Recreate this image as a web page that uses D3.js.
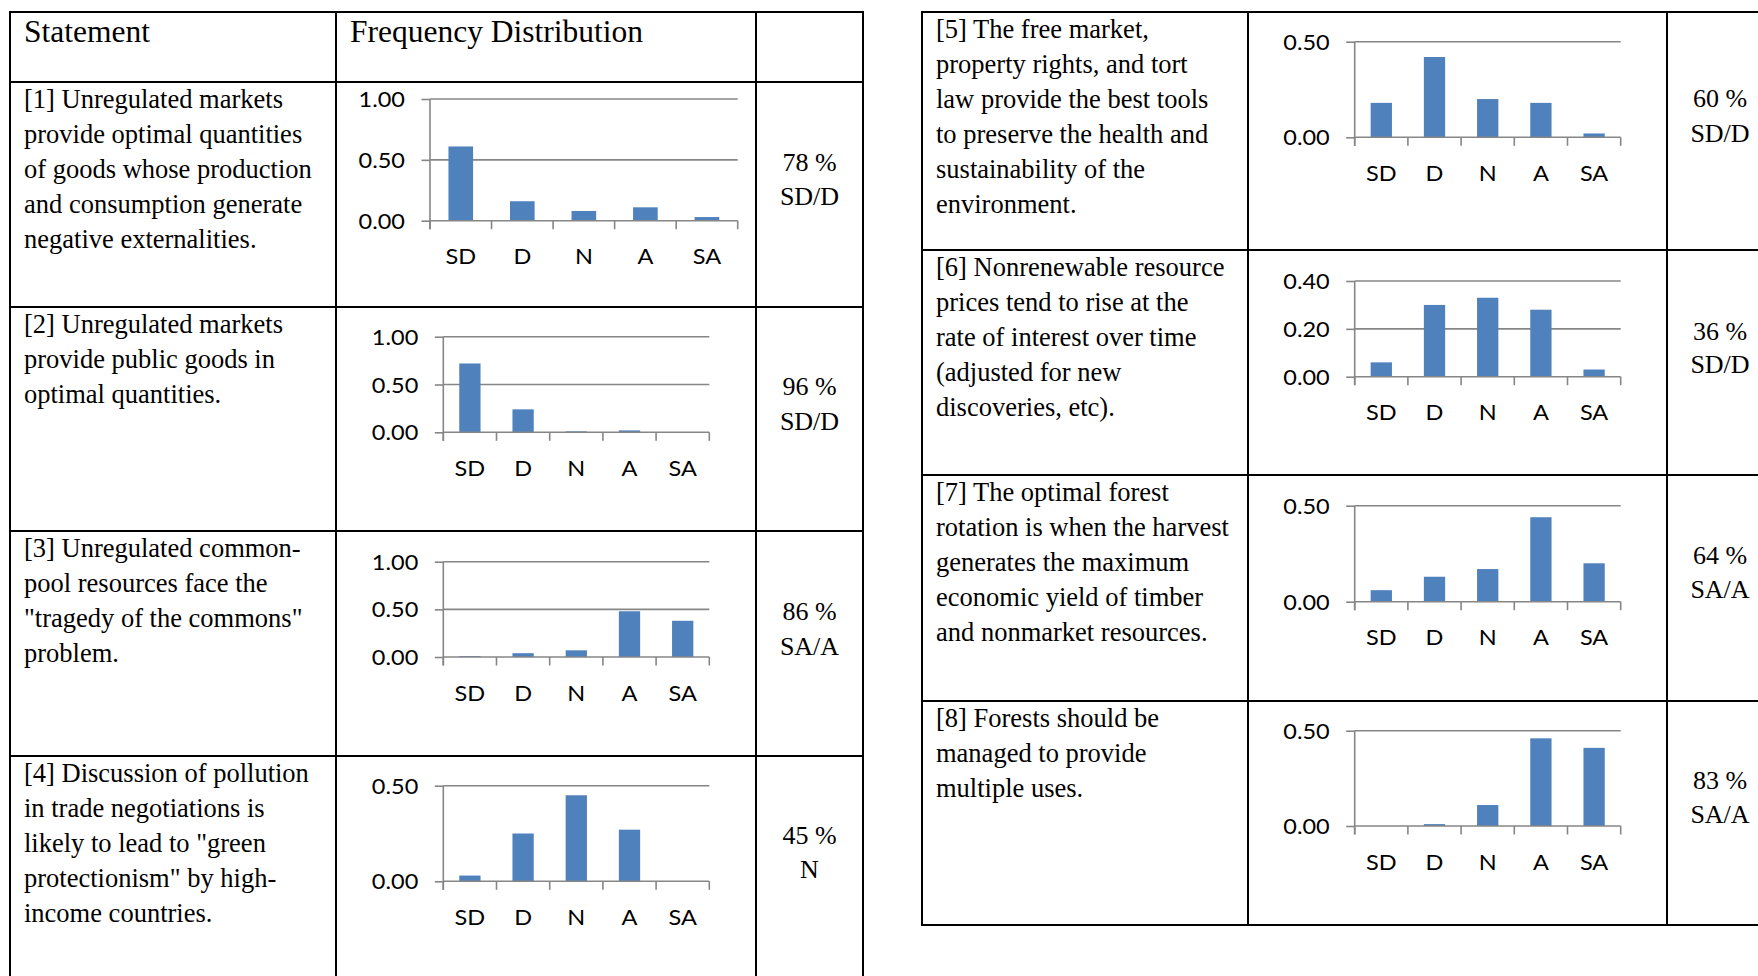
<!DOCTYPE html>
<html>
<head>
<meta charset="utf-8">
<script src="https://cdn.jsdelivr.net/npm/d3@7"></script>
<style>
  html, body { margin: 0; padding: 0; background: #fff; }
  svg { display: block; }
</style>
</head>
<body>
<svg id="chart" width="1758" height="976"></svg>
<script>
// ---------------- DATA ----------------
const categories = ["SD", "D", "N", "A", "SA"];

const values1 = [0.61, 0.16, 0.08, 0.11, 0.03];
const values2 = [0.72, 0.24, 0.01, 0.02, 0.00];
const values3 = [0.01, 0.04, 0.07, 0.48, 0.38];
const values4 = [0.03, 0.25, 0.45, 0.27, 0.00];
const values5 = [0.18, 0.42, 0.20, 0.18, 0.02];
const values6 = [0.06, 0.30, 0.33, 0.28, 0.03];
const values7 = [0.06, 0.13, 0.17, 0.44, 0.20];
const values8 = [0.00, 0.01, 0.11, 0.46, 0.41];

const ticksOne = [0, 0.5, 1.0];
const ticksHalf = [0, 0.5];
const ticksForty = [0, 0.2, 0.4];

const statements = [
  ["[1] Unregulated markets", "provide optimal quantities", "of goods whose production", "and consumption generate", "negative externalities."],
  ["[2] Unregulated markets", "provide public goods in", "optimal quantities."],
  ["[3] Unregulated common-", "pool resources face the", "\"tragedy of the commons\"", "problem."],
  ["[4] Discussion of pollution", "in trade negotiations is", "likely to lead to \"green", "protectionism\" by high-", "income countries."],
  ["[5] The free market,", "property rights, and tort", "law provide the best tools", "to preserve the health and", "sustainability of the", "environment."],
  ["[6] Nonrenewable resource", "prices tend to rise at the", "rate of interest over time", "(adjusted for new", "discoveries, etc)."],
  ["[7] The optimal forest", "rotation is when the harvest", "generates the maximum", "economic yield of timber", "and nonmarket resources."],
  ["[8] Forests should be", "managed to provide", "multiple uses."]
];

const percentLabels = ["78 %", "96 %", "86 %", "45 %", "60 %", "36 %", "64 %", "83 %"];
const majorityLabels = ["SD/D", "SD/D", "SA/A", "N", "SD/D", "SD/D", "SA/A", "SA/A"];

const headerLabels = ["Statement", "Frequency Distribution"];

// ---------------- LAYOUT ----------------
const seriesList = [values1, values2, values3, values4, values5, values6, values7, values8];
const tickList = [ticksOne, ticksOne, ticksOne, ticksHalf, ticksHalf, ticksForty, ticksHalf, ticksHalf];

const leftCols = [10, 336, 756, 863];
const leftRows = [12, 82, 307, 531, 756, 1000];
const rightCols = [922, 1248, 1667, 1773];
const rightRows = [12, 250, 475, 701, 925];

const chartBoxes = [
  {x: 430,    y: 99,    w: 307.7, h: 121.7},
  {x: 443.3,  y: 336.7, w: 266,   h: 95.6},
  {x: 443.3,  y: 561.7, w: 266,   h: 95.3},
  {x: 443.3,  y: 785.7, w: 266,   h: 95.6},
  {x: 1354.7, y: 41.7,  w: 266,   h: 95.6},
  {x: 1354.7, y: 281,   w: 266,   h: 95.7},
  {x: 1354.7, y: 505.7, w: 266,   h: 96},
  {x: 1354.7, y: 730.7, w: 266,   h: 95.3}
];

const rowInfo = [
  {top: 82,  textX: 24,  pctX: 809.5, p1: 89, p2: 123},
  {top: 307, textX: 24,  pctX: 809.5, p1: 88, p2: 123},
  {top: 531, textX: 24,  pctX: 809.5, p1: 89, p2: 124},
  {top: 756, textX: 24,  pctX: 809.5, p1: 88, p2: 122},
  {top: 12,  textX: 936, pctX: 1720,  p1: 95, p2: 130},
  {top: 250, textX: 936, pctX: 1720,  p1: 90, p2: 123},
  {top: 475, textX: 936, pctX: 1720,  p1: 89, p2: 123},
  {top: 701, textX: 936, pctX: 1720,  p1: 88, p2: 122}
];

const SERIF = "'Liberation Serif', 'Times New Roman', serif";
const SANS = "Lato, Carlito, Calibri, 'Open Sans', sans-serif";
const STRETCH = 1.12;
const AXIS_COLOR = "#868686";
const BAR_COLOR = "#4F81BD";

const svg = d3.select("#chart");
svg.append("rect").attr("width", 1758).attr("height", 976).attr("fill", "#fff");

function stretchedText(parent, x, y, str, opts) {
  const s = opts.stretch || 1;
  return parent.append("text")
    .attr("transform", `translate(${x},${y}) scale(${s},1)`)
    .attr("text-anchor", opts.anchor || "start")
    .attr("font-family", opts.family)
    .attr("font-size", opts.size)
    .attr("fill", opts.fill || "#000")
    .text(str);
}

// ---------------- TABLE GRID ----------------
function drawGrid(cols, rows) {
  const g = svg.append("g").attr("stroke", "#000").attr("stroke-width", 2);
  cols.forEach(x => g.append("line")
    .attr("x1", x).attr("x2", x)
    .attr("y1", rows[0] - 1).attr("y2", rows[rows.length - 1] + 1));
  rows.forEach(y => g.append("line")
    .attr("x1", cols[0] - 1).attr("x2", cols[cols.length - 1] + 1)
    .attr("y1", y).attr("y2", y));
}
drawGrid(leftCols, leftRows);
drawGrid(rightCols, rightRows);

// headers
stretchedText(svg, 24, 42, headerLabels[0], {family: SERIF, size: 31.5});
stretchedText(svg, 350, 42, headerLabels[1], {family: SERIF, size: 31.5});

// ---------------- STATEMENT TEXT + PERCENT ----------------
statements.forEach((lines, i) => {
  const r = rowInfo[i];
  lines.forEach((ln, j) => {
    stretchedText(svg, r.textX, r.top + 25.5 + j * 35, ln, {family: SERIF, size: 26.5});
  });
  stretchedText(svg, r.pctX, r.top + r.p1, percentLabels[i], {family: SERIF, size: 26, anchor: "middle"});
  stretchedText(svg, r.pctX, r.top + r.p2, majorityLabels[i], {family: SERIF, size: 26, anchor: "middle"});
});

// ---------------- CHARTS ----------------
seriesList.forEach((vals, i) => {
  const b = chartBoxes[i];
  const ticks = tickList[i];
  const yMax = d3.max(ticks);
  const g = svg.append("g").attr("transform", `translate(${b.x},${b.y})`);

  const x = d3.scaleBand().domain(categories).range([0, b.w]).padding(0);
  const y = d3.scaleLinear().domain([0, yMax]).range([b.h, 0]);

  // gridlines (non-zero ticks)
  g.append("g").selectAll("line")
    .data(ticks.filter(t => t > 0))
    .join("line")
    .attr("x1", 0).attr("x2", b.w)
    .attr("y1", d => y(d)).attr("y2", d => y(d))
    .attr("stroke", AXIS_COLOR).attr("stroke-width", 1.6);

  // bars
  const bw = x.bandwidth() * 0.4;
  g.append("g").selectAll("rect")
    .data(categories.map((c, k) => ({c, v: vals[k]})))
    .join("rect")
    .attr("x", d => x(d.c) + (x.bandwidth() - bw) / 2)
    .attr("width", bw)
    .attr("y", d => y(d.v))
    .attr("height", d => b.h - y(d.v))
    .attr("fill", BAR_COLOR);

  // y axis
  const tickLen = 8.5;
  const ya = g.append("g").call(
    d3.axisLeft(y).tickValues(ticks).tickFormat(d3.format(".2f")).tickSize(tickLen).tickSizeOuter(0)
  );
  ya.select(".domain").remove();
  ya.selectAll("line").attr("stroke", AXIS_COLOR).attr("stroke-width", 1.6);
  ya.selectAll("text")
    .attr("x", null)
    .attr("dy", null)
    .attr("transform", `translate(-25,7.5) scale(${STRETCH},1)`)
    .attr("font-family", SANS)
    .attr("font-size", 21)
    .attr("fill", "#000");

  // y axis line extending below baseline
  g.append("line")
    .attr("x1", 0).attr("x2", 0)
    .attr("y1", y(yMax)).attr("y2", b.h + tickLen)
    .attr("stroke", AXIS_COLOR).attr("stroke-width", 1.6);

  // x axis line
  g.append("line")
    .attr("x1", 0).attr("x2", b.w)
    .attr("y1", b.h).attr("y2", b.h)
    .attr("stroke", AXIS_COLOR).attr("stroke-width", 1.6);

  // boundary tick marks
  const bounds = categories.map(c => x(c)).concat([x.range()[1]]);
  g.append("g").selectAll("line")
    .data(bounds)
    .join("line")
    .attr("x1", d => d).attr("x2", d => d)
    .attr("y1", b.h).attr("y2", b.h + tickLen)
    .attr("stroke", AXIS_COLOR).attr("stroke-width", 1.6);

  // category labels
  const xa = g.append("g").attr("transform", `translate(0,${b.h})`)
    .call(d3.axisBottom(x).tickSize(0));
  xa.select(".domain").remove();
  xa.selectAll("text")
    .attr("y", null)
    .attr("dy", null)
    .attr("transform", `translate(0,43.5) scale(${STRETCH},1)`)
    .attr("font-family", SANS)
    .attr("font-size", 21)
    .attr("fill", "#000");
});
</script>
</body>
</html>
